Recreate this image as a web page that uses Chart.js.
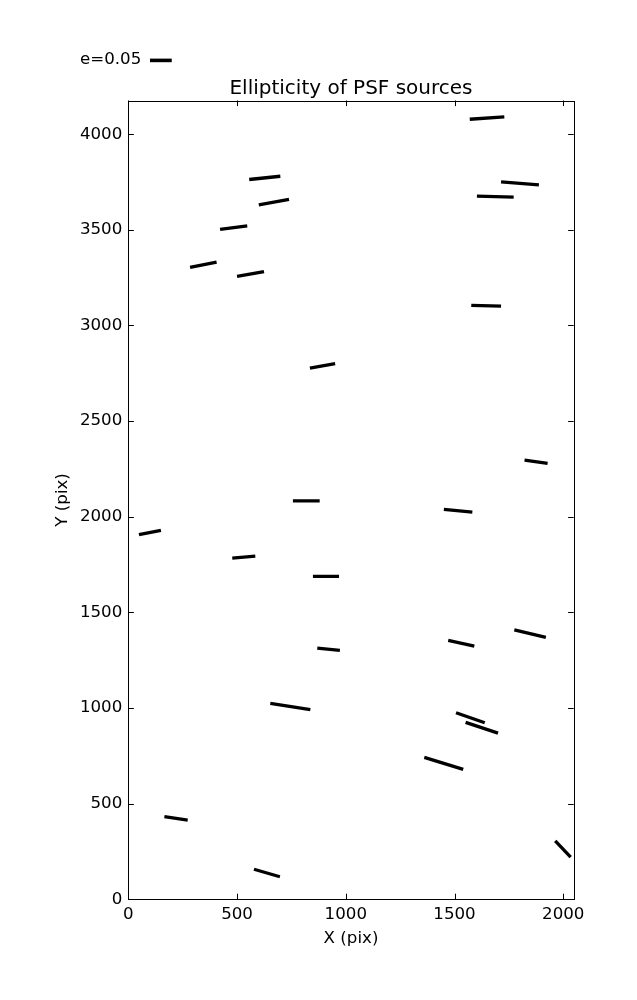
<!DOCTYPE html>
<html><head><meta charset="utf-8">
<script src="https://cdn.jsdelivr.net/npm/chart.js@4.4.1/dist/chart.umd.min.js"></script>
<style>html,body{margin:0;padding:0;background:#fff}canvas{display:block}</style>
</head><body>
<canvas id="c" width="637" height="1000"></canvas>
<script>
// Segment endpoints (data units: pixels on the detector)
const segX0 = [556, 600, 422, 284, 500, 1570, 1714, 1603, 1577, 835, 757, 1822, 1451, 49, 478, 849, 869, 653, 1471, 1775, 166, 578, 1507, 1551, 1361, 1963];
const segY0 = [3763, 3630, 3502, 3303, 3256, 4078, 3751, 3676, 3105, 2777, 2083, 2296, 2038, 1906, 1784, 1688, 1313, 1024, 1354, 1408, 432, 157, 975, 925, 742, 306];
const segX1 = [699, 739, 547, 406, 624, 1729, 1888, 1772, 1714, 951, 880, 1928, 1582, 150, 584, 969, 973, 837, 1591, 1920, 273, 697, 1639, 1700, 1540, 2034];
const segY1 = [3780, 3659, 3521, 3331, 3282, 4090, 3735, 3671, 3101, 2801, 2083, 2279, 2024, 1929, 1794, 1688, 1301, 991, 1324, 1369, 414, 118, 923, 869, 679, 221];

const xTicks = [0, 500, 1000, 1500, 2000];
const yTicks = [0, 500, 1000, 1500, 2000, 2500, 3000, 3500, 4000];
const X_MAX = 2048, Y_MAX = 4176;
const titleText = 'Ellipticity of PSF sources';
const xLabel = 'X (pix)', yLabel = 'Y (pix)';
const keyLabel = 'e=0.05';
const keyE = 0.05;
const E_SCALE = 2000; // x data units per unit ellipticity

const FONT = '"DejaVu Sans", sans-serif';

const datasets = segX0.map((_, i) => ({
  data: [{x: segX0[i], y: segY0[i]}, {x: segX1[i], y: segY1[i]}],
  showLine: true,
  borderColor: '#000',
  borderWidth: 3.3,
  borderCapStyle: 'butt',
  pointRadius: 0,
  pointHoverRadius: 0,
  fill: false
}));

const decor = {
  id: 'decor',
  afterDraw(chart) {
    const ctx = chart.ctx;
    const a = chart.chartArea;
    const xs = chart.scales.x, ys = chart.scales.y;
    ctx.save();
    ctx.strokeStyle = '#000';
    ctx.lineWidth = 1;
    ctx.strokeRect(Math.round(a.left) + 0.5, Math.round(a.top) + 0.5,
      Math.round(a.right) - Math.round(a.left), Math.round(a.bottom) - Math.round(a.top));
    const tl = 5.6;
    ctx.beginPath();
    xTicks.forEach(v => {
      const p = Math.round(xs.getPixelForValue(v)) + 0.5;
      ctx.moveTo(p, a.bottom); ctx.lineTo(p, a.bottom - tl);
      ctx.moveTo(p, a.top); ctx.lineTo(p, a.top + tl);
    });
    yTicks.forEach(v => {
      const p = Math.round(ys.getPixelForValue(v)) + 0.5;
      ctx.moveTo(a.left, p); ctx.lineTo(a.left + tl, p);
      ctx.moveTo(a.right, p); ctx.lineTo(a.right - tl, p);
    });
    ctx.stroke();
    // title
    ctx.fillStyle = '#000';
    ctx.font = '20px ' + FONT;
    ctx.textAlign = 'center';
    ctx.textBaseline = 'middle';
    ctx.fillText(titleText, (a.left + a.right) / 2, a.top - 12);
    // key
    ctx.font = '16.67px ' + FONT;
    ctx.textAlign = 'left';
    ctx.fillText(keyLabel, 80, 60);
    const keyLen = xs.getPixelForValue(keyE * E_SCALE) - xs.getPixelForValue(0);
    ctx.lineWidth = 3.6;
    ctx.lineCap = 'butt';
    ctx.beginPath();
    ctx.moveTo(150, 60.4); ctx.lineTo(150 + keyLen, 60.4);
    ctx.stroke();
    ctx.restore();
  }
};

const plainTick = v => String(v);

new Chart(document.getElementById('c'), {
  type: 'scatter',
  data: { datasets },
  options: {
    responsive: false,
    animation: false,
    events: [],
    layout: { padding: { top: 100.5, right: 63.3, bottom: 0, left: 0 } },
    plugins: { legend: { display: false }, tooltip: { enabled: false }, title: { display: false } },
    scales: {
      x: {
        type: 'linear', min: 0, max: X_MAX,
        afterBuildTicks: s => { s.ticks = xTicks.map(v => ({value: v})); },
        afterFit: s => { s.height = 100.7; },
        grid: { display: false, drawTicks: false },
        border: { display: false },
        ticks: { color: '#000', padding: 5, font: { family: FONT, size: 16.67 }, maxRotation: 0, autoSkip: false, callback: plainTick },
        title: { display: true, text: xLabel, color: '#000', font: { family: FONT, size: 16.67 }, padding: { top: 0, bottom: 51.8 } }
      },
      y: {
        type: 'linear', min: 0, max: Y_MAX,
        afterBuildTicks: s => { s.ticks = yTicks.map(v => ({value: v})); },
        afterFit: s => { s.width = 128.3; },
        grid: { display: false, drawTicks: false },
        border: { display: false },
        ticks: { color: '#000', padding: 6, font: { family: FONT, size: 16.67 }, autoSkip: false, callback: plainTick },
        title: { display: true, text: yLabel, color: '#000', font: { family: FONT, size: 16.67 }, padding: { top: 52.5, bottom: 0 } }
      }
    }
  },
  plugins: [decor]
});
</script>
</body></html>
